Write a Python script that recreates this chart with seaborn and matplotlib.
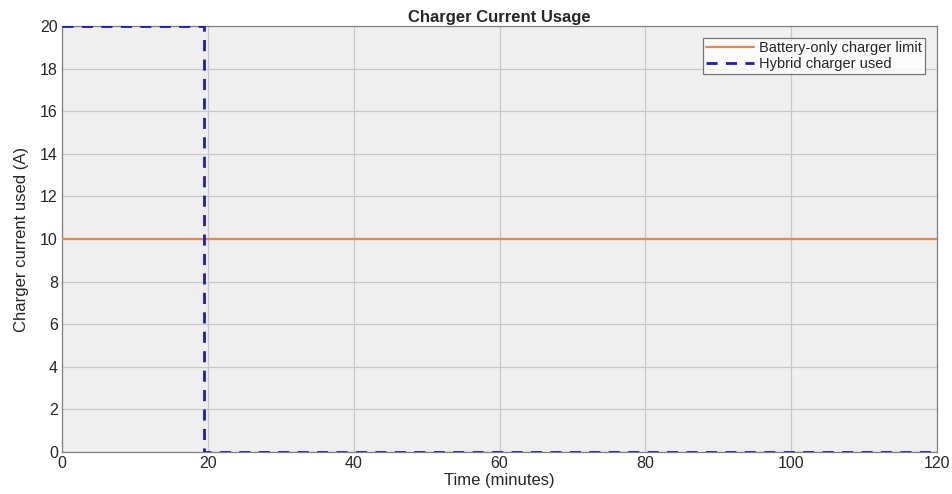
import matplotlib
matplotlib.use('Agg')
import matplotlib.pyplot as plt
import seaborn as sns
import pandas as pd

# Data
limit_time = [0, 120]
limit_current = [10, 10]
hybrid_time = [0, 19.5, 19.5, 120]
hybrid_current = [20, 20, 0, 0]

sns.set_style('whitegrid')
plt.rcParams['font.family'] = ['Liberation Sans', 'DejaVu Sans']

fig = plt.figure(figsize=(9.52, 4.94), dpi=100)
ax = fig.add_axes([62 / 952, 1 - 452 / 494, (937 - 62) / 952, (452 - 26) / 494])
ax.set_facecolor('#efefef')

limit_df = pd.DataFrame({'t': limit_time, 'i': limit_current})
hybrid_df = pd.DataFrame({'t': hybrid_time, 'i': hybrid_current})

# estimator=None so the step (two points at the same x) is drawn as-is
sns.lineplot(data=limit_df, x='t', y='i', ax=ax, color='#e8874a', lw=1.6,
             label='Battery-only charger limit', sort=False,
             estimator=None, errorbar=None, zorder=3)
sns.lineplot(data=hybrid_df, x='t', y='i', ax=ax, color='#1a1acc', lw=2.0,
             linestyle=(0, (4, 3)), label='Hybrid charger used', sort=False,
             estimator=None, errorbar=None, zorder=3)

ax.set_xlim(0, 120)
ax.set_ylim(0, 20)
ax.set_xticks(range(0, 121, 20))
ax.set_yticks(range(0, 21, 2))
ax.grid(True, color='#c8c8c8', lw=0.9)
for s in ax.spines.values():
    s.set_color('#808080')
    s.set_linewidth(0.9)
    s.set_visible(True)
    s.set_zorder(2.5)
ax.tick_params(axis='both', labelsize=11.5, colors='#262626', length=4,
               direction='in', pad=3)
ax.tick_params(axis='both', color='#808080')

ax.set_xlabel('Time (minutes)', fontsize=12, labelpad=1)
ax.set_ylabel('Charger current used (A)', fontsize=12, labelpad=8)
ax.set_title('Charger Current Usage', fontsize=12, fontweight='bold', pad=3)

leg = ax.legend(loc='upper right', fontsize=10.5, frameon=True, fancybox=False,
                handlelength=3.3, handletextpad=0.3, borderpad=0.25,
                labelspacing=0.1, borderaxespad=0.8)
leg.get_frame().set_edgecolor('#555555')
leg.get_frame().set_facecolor('white')
leg.get_frame().set_linewidth(0.9)
leg.set_zorder(5)

plt.savefig('out.png', dpi=100)
plt.close()
